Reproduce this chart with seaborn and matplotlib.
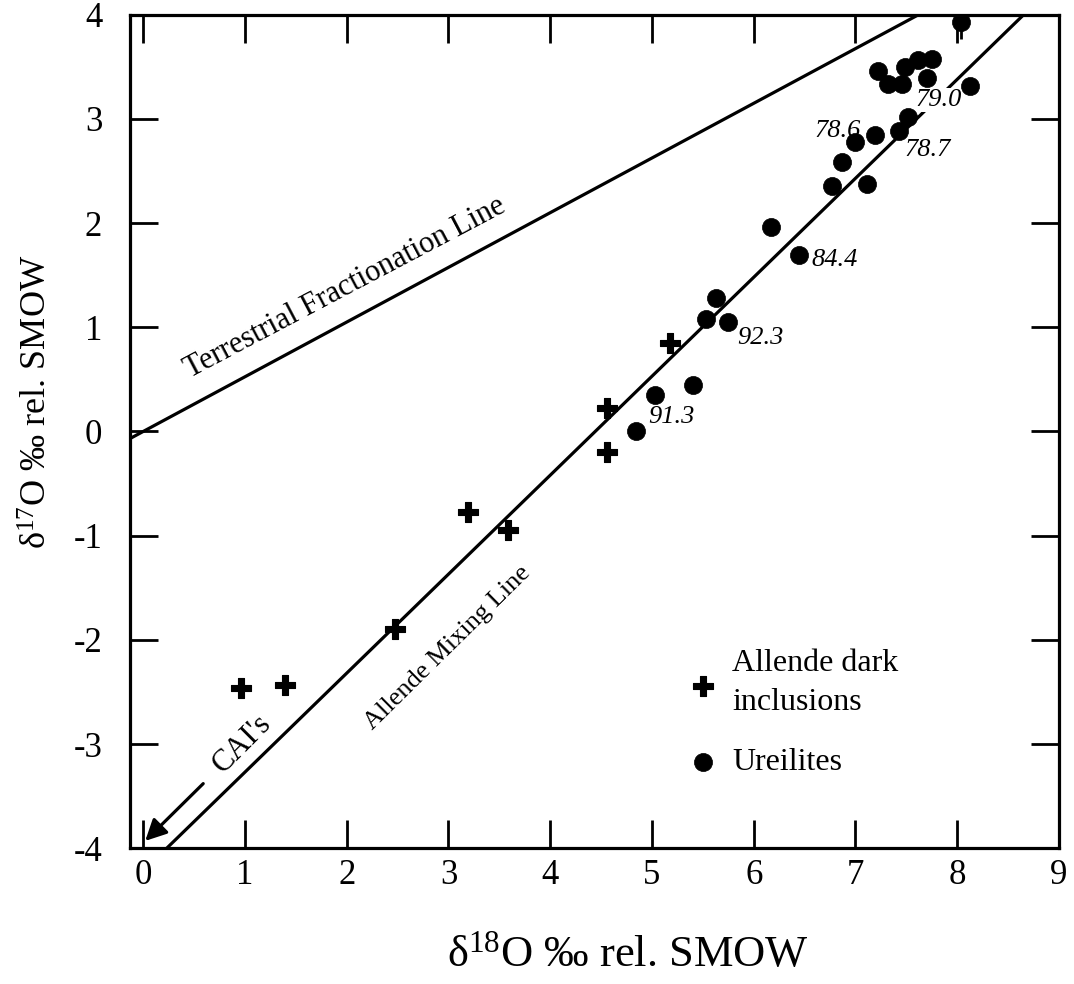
import numpy as np
import pandas as pd
import matplotlib
matplotlib.use("Agg")
import matplotlib.pyplot as plt
import seaborn as sns

# ---------------- data ----------------
allende_x = [0.96, 1.39, 2.47, 3.19, 3.59, 4.56, 4.56, 5.18]
allende_y = [-2.46, -2.43, -1.90, -0.77, -0.95, -0.20, 0.23, 0.85]

ureilite_x = [4.84, 5.03, 5.40, 5.53, 5.63, 5.75, 6.17, 6.45, 6.77, 7.11,
              6.87, 7.00, 7.19, 7.43, 7.52, 7.22, 7.32, 7.46, 7.49, 7.61,
              7.75, 7.70, 8.13, 8.04]
ureilite_y = [0.00, 0.35, 0.45, 1.08, 1.28, 1.05, 1.96, 1.69, 2.36, 2.38,
              2.59, 2.78, 2.85, 2.88, 3.02, 3.46, 3.34, 3.34, 3.50, 3.57,
              3.58, 3.39, 3.32, 3.93]
err_x = [8.04]
err_y = [3.90]
err_yerr = [0.13]

fo_labels = ["91.3", "92.3", "84.4", "78.6", "78.7", "79.0"]
fo_x = [5.19, 6.07, 6.80, 6.82, 7.71, 7.82]
fo_y = [0.14, 0.90, 1.65, 2.88, 2.70, 3.18]

tfl_slope, tfl_intercept = 0.525, 0.0     # Terrestrial Fractionation Line
aml_slope, aml_intercept = 0.95, -4.22    # Allende Mixing Line

x_ticks = list(range(0, 10))
y_ticks = list(range(-4, 5))

# ---------------- style ----------------
sns.set_theme(style="ticks")
plt.rcParams["font.family"] = ["Liberation Serif", "DejaVu Serif"]
plt.rcParams["mathtext.fontset"] = "custom"
plt.rcParams["mathtext.rm"] = "Liberation Serif"
plt.rcParams["mathtext.it"] = "Liberation Serif:italic"
plt.rcParams["axes.unicode_minus"] = False
for k in ["text.color", "axes.labelcolor", "xtick.color", "ytick.color",
          "axes.edgecolor"]:
    plt.rcParams[k] = "black"

fig = plt.figure(figsize=(10.74, 9.84), dpi=100)
ax = fig.add_axes([0.121, 0.138, 0.865, 0.847])

xmin, xmax = -0.13, 9.0
ymin, ymax = -4.0, 4.0

# lines
lx = np.array([xmin, xmax])
tfl = pd.DataFrame({"x": lx, "y": tfl_slope * lx + tfl_intercept})
aml = pd.DataFrame({"x": lx, "y": aml_slope * lx + aml_intercept})
sns.lineplot(data=tfl, x="x", y="y", ax=ax, color="black", lw=2.3, zorder=2)
sns.lineplot(data=aml, x="x", y="y", ax=ax, color="black", lw=2.3, zorder=2)

# points
dfa = pd.DataFrame({"x": allende_x, "y": allende_y})
dfu = pd.DataFrame({"x": ureilite_x, "y": ureilite_y})
ax.errorbar(err_x, err_y, yerr=err_yerr, fmt="none", ecolor="black",
            elinewidth=2, capsize=0, zorder=3)
sns.scatterplot(data=dfa, x="x", y="y", ax=ax, marker="P", s=220,
                color="black", edgecolor="black", linewidth=0.8, zorder=4,
                label="Allende dark\ninclusions")
sns.scatterplot(data=dfu, x="x", y="y", ax=ax, marker="o", s=170,
                color="black", edgecolor="black", linewidth=0.5, zorder=4,
                label="Ureilites")

# annotations (Fo values)
for t, x, y in zip(fo_labels, fo_x, fo_y):
    kw = {}
    if t == "79.0":
        kw["bbox"] = dict(facecolor="white", edgecolor="none", pad=0.5)
    ax.text(x, y, t, fontsize=19, style="italic", ha="center", va="center",
            zorder=3, **kw)

ax.text(1.98, 1.38, "Terrestrial Fractionation Line", fontsize=22,
        rotation=27.8, rotation_mode="anchor", ha="center", va="center")
ax.text(2.99, -2.08, "Allende Mixing Line", fontsize=19,
        rotation=44.6, rotation_mode="anchor", ha="center", va="center")
ax.text(0.97, -3.0, "CAI's", fontsize=22,
        rotation=45, rotation_mode="anchor", ha="center", va="center")
ax.annotate("", xy=(0.02, -3.93), xytext=(0.59, -3.38),
            arrowprops=dict(arrowstyle="-|>", color="black", lw=2.3,
                            mutation_scale=32, shrinkA=0, shrinkB=0))

# axes
ax.set_xlim(xmin, xmax)
ax.set_ylim(ymin, ymax)
ax.set_xticks(x_ticks)
ax.set_yticks(y_ticks)
ax.set_xticklabels([str(v) for v in x_ticks])
ax.set_yticklabels([str(v) for v in y_ticks])
ax.tick_params(axis="both", which="major", direction="in", length=20,
               width=2, labelsize=25, top=True, right=True, color="black")
ax.tick_params(axis="x", pad=8)
ax.tick_params(axis="y", pad=20)
for s in ax.spines.values():
    s.set_linewidth(2.3)
    s.set_color("black")
    s.set_visible(True)

ax.set_xlabel(r"δ$^{18}$O ‰ rel. SMOW", fontsize=32)
ax.set_ylabel(r"δ$^{17}$O ‰ rel. SMOW", fontsize=26)
ax.xaxis.set_label_coords(0.536, -0.104)
ax.yaxis.set_label_coords(-0.081, 0.535)

leg = ax.legend(loc="upper left", bbox_to_anchor=(0.600, 0.239),
                frameon=False, fontsize=23, handlelength=1.0,
                handletextpad=0.4, borderpad=0, borderaxespad=0,
                labelspacing=0.97, markerscale=1.0)
for t in leg.get_texts():
    t.set_linespacing(1.45)

fig.savefig("out.png", dpi=100, facecolor="white")
